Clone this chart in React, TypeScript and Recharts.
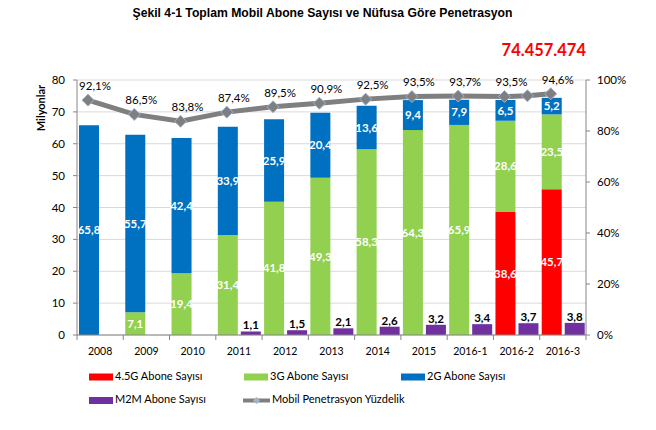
import React from 'react';
import { ComposedChart, Bar, Line, XAxis, YAxis, CartesianGrid, LabelList } from 'recharts';

const categories = ['2008', '2009', '2010', '2011', '2012', '2013', '2014', '2015', '2016-1', '2016-2', '2016-3'];
const g45Values = [0, 0, 0, 0, 0, 0, 0, 0, 0, 38.6, 45.7];
const g3Values = [0, 7.1, 19.4, 31.4, 41.8, 49.3, 58.3, 64.3, 65.9, 28.6, 23.5];
const g2Values = [65.8, 55.7, 42.4, 33.9, 25.9, 20.4, 13.6, 9.4, 7.9, 6.5, 5.2];
const m2mValues = [0, 0, 0, 1.1, 1.5, 2.1, 2.6, 3.2, 3.4, 3.7, 3.8];

const penCategory = ['2008', '2009', '2010', '2011', '2012', '2013', '2014', '2015', '2016-1', '2016-2', '2016-2', '2016-3'];
const penBarSide = ['stack', 'stack', 'stack', 'stack', 'stack', 'stack', 'stack', 'stack', 'stack', 'stack', 'm2m', 'stack'];
const penetration = [92.1, 86.5, 83.8, 87.4, 89.5, 90.9, 92.5, 93.5, 93.7, 93.5, 93.8, 94.6];
const penLabels = ['92,1%', '86,5%', '83,8%', '87,4%', '89,5%', '90,9%', '92,5%', '93,5%', '93,7%', '93,5%', null, '94,6%'];

const leftTicks = [0, 10, 20, 30, 40, 50, 60, 70, 80];
const rightTicks = [0, 20, 40, 60, 80, 100];

const FONT = 'Lato, "Open Sans", sans-serif';
const C45 = '#FF0000';
const C3 = '#92D050';
const C2 = '#0070C0';
const CM2M = '#7030A0';
const CLINE = '#7F7F7F';
const AXIS = '#868686';

const W = 656;
const H = 430;
const MARGIN = { top: 80, right: 20, bottom: 65, left: 37 };
const YL_W = 40;
const YR_W = 50;
const XH = 30;
const PLOT_W = W - MARGIN.left - MARGIN.right - YL_W - YR_W;
const BAND = PLOT_W / categories.length;
const BAR = 20;
const GAP = 3;
const OFF = Math.floor((BAND - 2 * BAR - GAP) / 2);
const STACK_C = (OFF + BAR / 2) / BAND;
const M2M_C = (OFF + BAR + GAP + BAR / 2) / BAND;

const data = categories.map((c, i) => ({
  cat: c,
  g45: g45Values[i],
  g3: g3Values[i],
  g2: g2Values[i],
  m2m: m2mValues[i],
}));

const lineData = penetration.map((p, i) => ({
  x: categories.indexOf(penCategory[i]) + (penBarSide[i] === 'stack' ? STACK_C : M2M_C),
  pen: p,
  label: penLabels[i],
}));

const fmt = (v: any) => (v == null || v === 0 ? '' : String(v).replace('.', ','));

const Diamond = (props: any) => {
  const { cx, cy, index } = props;
  if (cx == null || cy == null) return <g key={`d${index}`} />;
  const r = 6;
  return (
    <polygon
      key={`d${index}`}
      points={`${cx},${cy - r} ${cx + r},${cy} ${cx},${cy + r} ${cx - r},${cy}`}
      fill={CLINE}
      stroke="#9FB3CF"
      strokeWidth={1}
    />
  );
};

const XTick = (props: any) => {
  const { x, y, payload, index } = props;
  const left = x - BAND / 2;
  return (
    <g>
      <line x1={left} y1={y} x2={left} y2={y + 5} stroke={AXIS} />
      {index === categories.length - 1 && (
        <line x1={x + BAND / 2} y1={y} x2={x + BAND / 2} y2={y + 5} stroke={AXIS} />
      )}
      <text x={x} y={y + 17} textAnchor="middle" dominantBaseline="middle" fontSize={10.5} fill="#000" fontFamily={FONT}>
        {payload.value}
      </text>
    </g>
  );
};

const PenLabel = (props: any) => {
  const { x, y, index } = props;
  const lbl = lineData[index] ? lineData[index].label : null;
  if (!lbl) return null;
  return (
    <text x={x + 7} y={y - 13} textAnchor="middle" dominantBaseline="middle" fontSize={11.5} fill="#000" fontFamily={FONT}>
      {lbl}
    </text>
  );
};

const legendRows = [
  [
    { x: 89, y: 377, color: C45, label: '4.5G Abone Sayısı', kind: 'box' },
    { x: 244, y: 377, color: C3, label: '3G Abone Sayısı', kind: 'box' },
    { x: 401, y: 377, color: C2, label: '2G Abone Sayısı', kind: 'box' },
  ],
  [
    { x: 89, y: 400.5, color: CM2M, label: 'M2M Abone Sayısı', kind: 'box' },
    { x: 243, y: 400.5, color: CLINE, label: 'Mobil Penetrasyon Yüzdelik', kind: 'line' },
  ],
];

export default function App() {
  return (
    <div style={{ position: 'absolute', left: 0, top: 0, width: W, height: H, background: '#fff' }}>
      <ComposedChart
        width={W}
        height={H}
        data={data}
        margin={MARGIN}
        barGap={GAP}
        barSize={BAR}
        style={{ fontFamily: FONT }}
      >
        <CartesianGrid yAxisId="left" vertical={false} stroke="#D9D9D9" />
        <XAxis
          dataKey="cat"
          height={XH}
          axisLine={{ stroke: AXIS }}
          tickLine={false}
          tickSize={0}
          tickMargin={0}
          interval={0}
          tick={<XTick />}
        />
        <XAxis xAxisId="line" type="number" dataKey="x" domain={[0, categories.length]} hide allowDataOverflow />
        <YAxis
          yAxisId="left"
          width={YL_W}
          domain={[0, 80]}
          ticks={leftTicks}
          interval={0}
          axisLine={{ stroke: AXIS }}
          tickLine={{ stroke: AXIS }}
          tickSize={4}
          tickMargin={8}
          tick={{ fontSize: 11.5, fill: '#000', fontFamily: FONT }}
        />
        <YAxis
          yAxisId="right"
          orientation="right"
          width={YR_W}
          domain={[0, 100]}
          ticks={rightTicks}
          interval={0}
          axisLine={{ stroke: AXIS }}
          tickLine={{ stroke: AXIS }}
          tickSize={4}
          tickMargin={7}
          tickFormatter={(v: number) => `${v}%`}
          tick={{ fontSize: 11.5, fill: '#000', fontFamily: FONT, textAnchor: 'start' }}
        />
        <Bar yAxisId="left" dataKey="g45" stackId="s" fill={C45} isAnimationActive={false}>
          <LabelList dataKey="g45" position="center" formatter={fmt} fill="#fff" fontSize={11.5} fontWeight="bold" fontFamily={FONT} />
        </Bar>
        <Bar yAxisId="left" dataKey="g3" stackId="s" fill={C3} isAnimationActive={false}>
          <LabelList dataKey="g3" position="center" formatter={fmt} fill="#fff" fontSize={11.5} fontWeight="bold" fontFamily={FONT} />
        </Bar>
        <Bar yAxisId="left" dataKey="g2" stackId="s" fill={C2} isAnimationActive={false}>
          <LabelList dataKey="g2" position="center" formatter={fmt} fill="#fff" fontSize={11.5} fontWeight="bold" fontFamily={FONT} />
        </Bar>
        <Bar yAxisId="left" dataKey="m2m" fill={CM2M} isAnimationActive={false}>
          <LabelList dataKey="m2m" position="top" offset={2} formatter={fmt} fill="#000" fontSize={11.5} fontWeight="bold" fontFamily={FONT} />
        </Bar>
        <Line
          xAxisId="line"
          yAxisId="right"
          data={lineData}
          dataKey="pen"
          type="linear"
          stroke={CLINE}
          strokeWidth={5}
          dot={Diamond}
          activeDot={false}
          isAnimationActive={false}
        >
          <LabelList dataKey="pen" content={PenLabel} />
        </Line>
      </ComposedChart>
      <svg
        width={W}
        height={H}
        style={{ position: 'absolute', left: 0, top: 0, pointerEvents: 'none' }}
      >
        <text x={322.5} y={14} textAnchor="middle" dominantBaseline="middle" fontSize={12.2} fontWeight="bold" fill="#000" fontFamily='"Liberation Sans", Arial, sans-serif'>
          Şekil 4-1 Toplam Mobil Abone Sayısı ve Nüfusa Göre Penetrasyon
        </text>
        <text x={586} y={52} textAnchor="end" dominantBaseline="middle" fontSize={16.5} fontWeight="bold" fill="#FF0000" fontFamily={FONT}>
          74.457.474
        </text>
        <text
          x={42}
          y={108}
          transform="rotate(-90 42 108)"
          textAnchor="middle"
          dominantBaseline="middle"
          fontSize={11}
          fontWeight="bold"
          fill="#000"
          fontFamily={FONT}
        >
          Milyonlar
        </text>
        {legendRows.flat().map((it, i) => (
          <g key={i}>
            {it.kind === 'box' ? (
              <rect x={it.x} y={it.y - 3.5} width={24} height={7} fill={it.color} />
            ) : (
              <g>
                <line x1={it.x} y1={it.y} x2={it.x + 27} y2={it.y} stroke={it.color} strokeWidth={4} />
                <polygon
                  points={`${it.x + 13.5},${it.y - 3.5} ${it.x + 17},${it.y} ${it.x + 13.5},${it.y + 3.5} ${it.x + 10},${it.y}`}
                  fill="#9FB3CF"
                />
              </g>
            )}
            <text
              x={it.x + (it.kind === 'box' ? 26 : 29)}
              y={it.y}
              dominantBaseline="middle"
              fontSize={11}
              fill="#000"
              fontFamily={FONT}
            >
              {it.label}
            </text>
          </g>
        ))}
      </svg>
    </div>
  );
}
